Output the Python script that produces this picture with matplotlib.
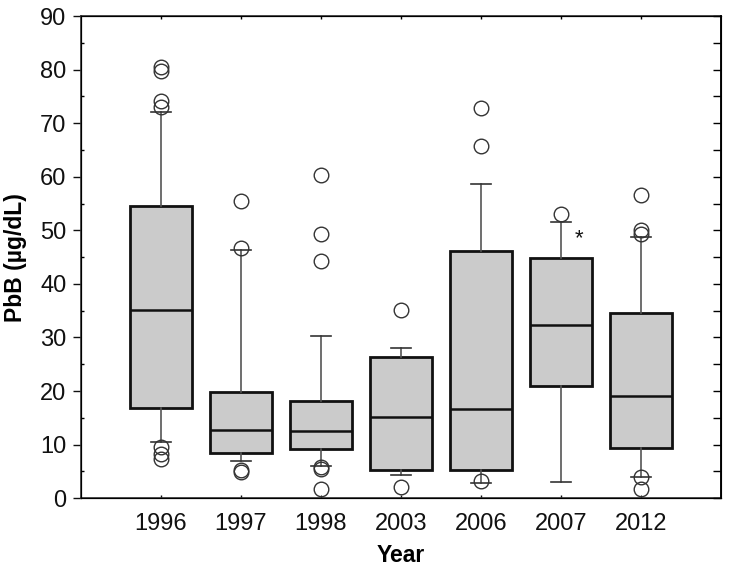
import matplotlib

matplotlib.use("Agg")
import matplotlib.pyplot as plt
import numpy as np
from matplotlib.ticker import MultipleLocator

plt.rcParams["font.family"] = ["Liberation Sans", "DejaVu Sans"]

years = ["1996", "1997", "1998", "2003", "2006", "2007", "2012"]
q1 = [16.9, 8.5, 9.1, 5.3, 5.3, 21.0, 9.3]
medians = [35.2, 12.8, 12.5, 15.2, 16.7, 32.4, 19.0]
q3 = [54.6, 19.8, 18.2, 26.3, 46.2, 44.8, 34.6]
whisker_low = [10.5, 6.9, 6.0, 4.3, 2.9, 3.0, 4.0]
whisker_high = [72.1, 46.3, 30.2, 28.1, 58.6, 51.5, 48.8]
outliers = [
    [80.4, 79.8, 74.2, 73.0, 9.6, 8.3, 7.4],
    [55.4, 46.7, 5.2, 4.8],
    [60.4, 49.4, 44.2, 5.8, 5.4, 1.8],
    [35.1, 2.0],
    [72.8, 65.7, 3.2],
    [53.0],
    [56.6, 50.0, 49.3, 4.0, 1.7],
]
star_year = "2007"
star_value = 48.4

stats = [
    {
        "label": year,
        "q1": lo,
        "med": med,
        "q3": hi,
        "whislo": wlo,
        "whishi": whi,
        "fliers": np.array(fl),
    }
    for year, lo, med, hi, wlo, whi, fl in zip(
        years, q1, medians, q3, whisker_low, whisker_high, outliers
    )
]

fig = plt.figure(figsize=(7.29, 5.72), dpi=100)
ax = fig.add_axes([0.111, 0.129, 0.878, 0.843])
positions = np.arange(1, len(years) + 1)

ax.bxp(
    stats,
    positions=positions,
    widths=0.78,
    capwidths=0.24,
    patch_artist=True,
    boxprops=dict(facecolor="#cbcbcb", edgecolor="#111111", linewidth=2.0),
    medianprops=dict(color="#111111", linewidth=1.8),
    whiskerprops=dict(color="#555555", linewidth=1.2),
    capprops=dict(color="#333333", linewidth=1.2),
    flierprops=dict(
        marker="o",
        markerfacecolor="none",
        markeredgecolor="#333333",
        markeredgewidth=1.0,
        markersize=10.5,
        linestyle="none",
    ),
)

star_x = positions[years.index(star_year)] + 0.23
ax.text(star_x, star_value, "*", fontsize=16, ha="center", va="center", color="#111111")

ax.set_xlim(0, 8)
ax.set_ylim(0, 90)
ax.set_xticks(positions)
ax.set_xticklabels(years, fontsize=17)
ax.yaxis.set_major_locator(MultipleLocator(10))
ax.yaxis.set_minor_locator(MultipleLocator(5))
ax.tick_params(axis="y", which="major", direction="out", length=5.5, width=1.0,
               labelsize=17, pad=5, colors="#111111")
ax.tick_params(axis="y", which="minor", direction="in", length=2.5, width=1.0)
ax.tick_params(axis="x", direction="in", length=2.5, width=1.0, pad=11, colors="#111111")
ax.set_xlabel("Year", fontsize=16.5, fontweight="bold", labelpad=6)
ax.set_ylabel("PbB (µg/dL)", fontsize=16.5, fontweight="bold", labelpad=9)

for spine in ax.spines.values():
    spine.set_linewidth(1.2)
    spine.set_color("#333333")

# right side ticks every 5, pointing inward, no labels
ax_right = ax.twinx()
ax_right.set_ylim(0, 90)
ax_right.yaxis.set_major_locator(MultipleLocator(5))
ax_right.tick_params(axis="y", direction="in", length=5.5, width=1.0, labelright=False)
ax_right.spines["right"].set_linewidth(1.2)

# top ticks at the box positions
ax_top = ax.twiny()
ax_top.set_xlim(0, 8)
ax_top.set_xticks(positions)
ax_top.tick_params(axis="x", direction="in", length=2.5, width=1.0, labeltop=False)

fig.savefig("out.png", dpi=100)
